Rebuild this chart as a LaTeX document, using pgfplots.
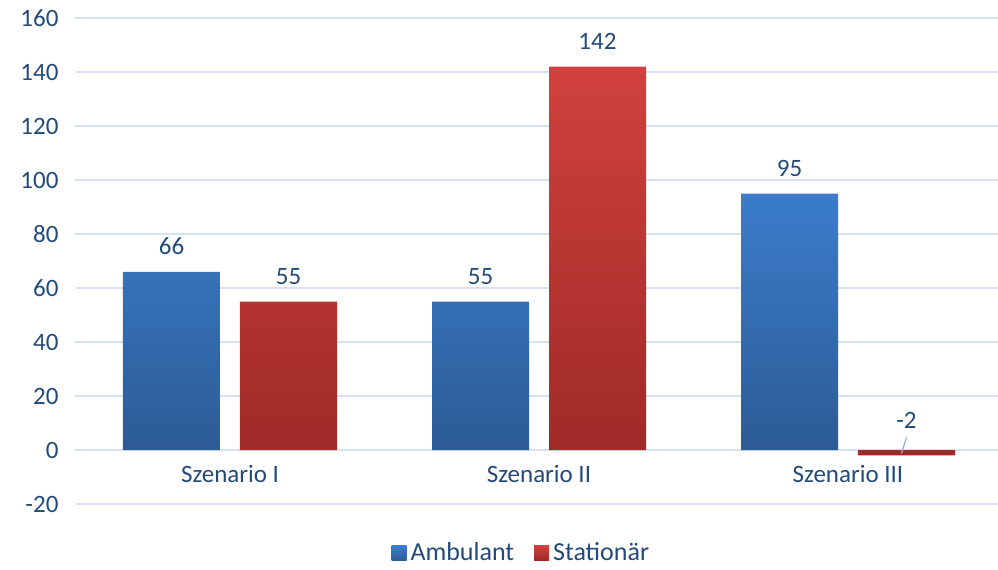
\documentclass[border=0pt]{standalone}
\usepackage{fontspec}
\setmainfont{Carlito}
\usepackage{pgfplots}
\pgfplotsset{compat=1.18}

\definecolor{txt}{HTML}{234A7B}
\definecolor{gridc}{HTML}{D6E2F1}
\definecolor{leader}{HTML}{8FB0DA}
\definecolor{bluetop}{HTML}{3B7DCB}
\definecolor{bluebot}{HTML}{2C5B95}
\definecolor{redtop}{HTML}{D1413D}
\definecolor{redbot}{HTML}{9E2A27}

\begin{document}
\begin{tikzpicture}[font=\fontsize{12.5}{15}\selectfont]
\useasboundingbox (-37.75pt,-32.5pt) rectangle (461.25pt,252pt);
\begin{axis}[
    scale only axis,
    width=463.5pt, height=243pt,
    xmin=-0.5, xmax=2.5,
    ymin=-20, ymax=160,
    ytick={-20,0,...,160},
    xtick={0,1,2},
    xticklabels={Szenario I, Szenario II, Szenario III},
    xticklabel shift=-27pt,
    yticklabel style={xshift=-5pt},
    ymajorgrids,
    grid style={gridc, line width=0.8pt},
    axis line style={draw=none},
    tick style={draw=none},
    ticklabel style={text=txt},
    /pgf/number format/assume math mode=true,
    ybar=10pt, bar width=48.5pt,
    nodes near coords,
    nodes near coords style={text=txt, anchor=south, yshift=5pt},
    coordinate style/.condition={y<0}{anchor=south, yshift=5pt,
      append after command={([yshift=-1pt]\tikzlastnode.south) edge[draw=leader, line width=0.6pt] ++(-2.5pt,-8pt)}},
    legend columns=2,
    legend style={at={(0.482,-0.101)}, anchor=center, draw=none, fill=none,
      text=txt, font=\fontsize{13}{15}\selectfont,
      /tikz/every even column/.append style={column sep=8pt}},
]
\addplot[draw=none, top color=bluetop, bottom color=bluebot,
  legend image code/.code={\path[top color=bluetop, bottom color=bluebot] (0pt,-3.75pt) rectangle (7.5pt,3.75pt);}]
  coordinates {(0,66) (1,55) (2,95)};
\addlegendentry{Ambulant}
\addplot[draw=none, top color=redtop, bottom color=redbot,
  legend image code/.code={\path[top color=redtop, bottom color=redbot] (0pt,-3.75pt) rectangle (7.5pt,3.75pt);}]
  coordinates {(0,55) (1,142) (2,-2)};
\addlegendentry{Stationär}
\end{axis}
\end{tikzpicture}
\end{document}
